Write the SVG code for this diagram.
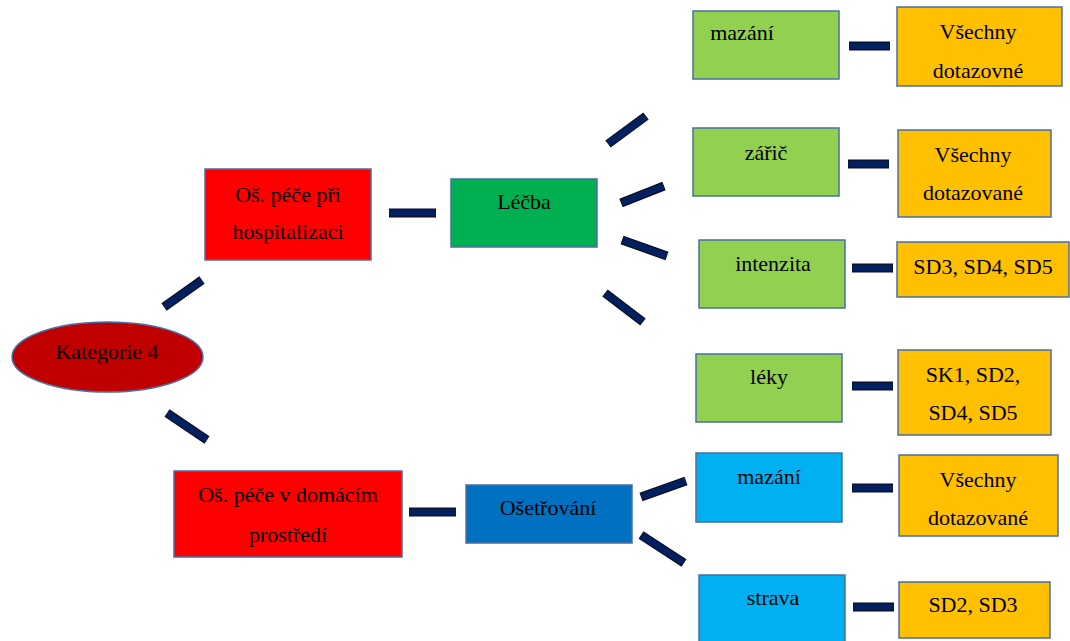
<svg xmlns="http://www.w3.org/2000/svg" width="1070" height="641" viewBox="0 0 1070 641">
<style>
.t{font-family:"Liberation Serif","Times New Roman",serif;font-size:22px;fill:#000;text-anchor:middle}
.b{stroke:#4a6fa5;stroke-width:1.5}
.red{fill:#FF0000}.dred{fill:#C00000}.grn{fill:#00B050}.lg{fill:#92D050}.blu{fill:#0070C0}.lb{fill:#00B0F0}.org{fill:#FFC000}
.c{stroke:#0d0d24;stroke-width:9;stroke-linecap:butt}
.ci{stroke:#002060;stroke-width:6.5;stroke-linecap:butt}
</style>
<rect width="1070" height="641" fill="#fff"/>
<g id="connectors">
<g id="c-outline">
<line class="c" x1="164" y1="307" x2="202" y2="280"/>
<line class="c" x1="167" y1="413" x2="207" y2="440"/>
<line class="c" x1="389" y1="213" x2="436" y2="213"/>
<line class="c" x1="409" y1="512" x2="456" y2="512"/>
<line class="c" x1="608" y1="144" x2="646" y2="116"/>
<line class="c" x1="621" y1="203" x2="664" y2="186"/>
<line class="c" x1="622" y1="240" x2="667" y2="256"/>
<line class="c" x1="605" y1="293" x2="643" y2="322"/>
<line class="c" x1="641" y1="497" x2="686" y2="481"/>
<line class="c" x1="641" y1="535" x2="684" y2="563"/>
<line class="c" x1="849" y1="46" x2="890" y2="46"/>
<line class="c" x1="848" y1="164" x2="889" y2="164"/>
<line class="c" x1="852" y1="268" x2="893" y2="268"/>
<line class="c" x1="852" y1="386" x2="893" y2="386"/>
<line class="c" x1="852" y1="488" x2="893" y2="488"/>
<line class="c" x1="853" y1="607" x2="894" y2="607"/>
</g>
<g id="c-inner">
<line class="ci" x1="164.5" y1="306.5" x2="201.5" y2="280.5"/>
<line class="ci" x1="167.5" y1="413.5" x2="206.5" y2="439.5"/>
<line class="ci" x1="389.5" y1="213" x2="435.5" y2="213"/>
<line class="ci" x1="409.5" y1="512" x2="455.5" y2="512"/>
<line class="ci" x1="608.5" y1="143.5" x2="645.5" y2="116.5"/>
<line class="ci" x1="621.5" y1="203" x2="663.5" y2="186"/>
<line class="ci" x1="622.5" y1="240" x2="666.5" y2="256"/>
<line class="ci" x1="605.5" y1="293.5" x2="642.5" y2="321.5"/>
<line class="ci" x1="641.5" y1="497" x2="685.5" y2="481"/>
<line class="ci" x1="641.5" y1="535.5" x2="683.5" y2="562.5"/>
<line class="ci" x1="849.5" y1="46" x2="889.5" y2="46"/>
<line class="ci" x1="848.5" y1="164" x2="888.5" y2="164"/>
<line class="ci" x1="852.5" y1="268" x2="892.5" y2="268"/>
<line class="ci" x1="852.5" y1="386" x2="892.5" y2="386"/>
<line class="ci" x1="852.5" y1="488" x2="892.5" y2="488"/>
<line class="ci" x1="853.5" y1="607" x2="893.5" y2="607"/>
</g>
</g>
<g id="kategorie4"><ellipse class="dred b" cx="107.5" cy="357" rx="95.5" ry="35"/><text class="t" x="107" y="359">Kategorie 4</text></g>
<g id="hospitalizace"><rect class="red b" x="205" y="169" width="166" height="91"/><text class="t" x="288" y="202">Oš. péče při</text><text class="t" x="288" y="239">hospitalizaci</text></g>
<g id="domaci"><rect class="red b" x="174" y="471" width="228" height="86"/><text class="t" x="288" y="502">Oš. péče v domácím</text><text class="t" x="288" y="542">prostředí</text></g>
<g id="lecba"><rect class="grn b" x="451" y="179" width="146" height="68"/><text class="t" x="524" y="209">Léčba</text></g>
<g id="osetrovani"><rect class="blu b" x="466" y="485" width="166" height="58"/><text class="t" x="548" y="515">Ošetřování</text></g>
<g id="mazani1"><rect class="lg b" x="693" y="11" width="146" height="68"/><text class="t" x="742" y="40">mazání</text></g>
<g id="zaric"><rect class="lg b" x="693" y="128" width="146" height="68"/><text class="t" x="766" y="160">zářič</text></g>
<g id="intenzita"><rect class="lg b" x="699" y="240" width="146" height="68"/><text class="t" x="773" y="271">intenzita</text></g>
<g id="leky"><rect class="lg b" x="696" y="354" width="146" height="68"/><text class="t" x="769" y="384">léky</text></g>
<g id="mazani2"><rect class="lb b" x="696" y="453" width="146" height="69"/><text class="t" x="769" y="484">mazání</text></g>
<g id="strava"><rect class="lb b" x="699" y="575" width="146" height="70"/><text class="t" x="773" y="605">strava</text></g>
<g id="vsechny1"><rect class="org b" x="897" y="7" width="165" height="79"/><text class="t" x="978" y="39">Všechny</text><text class="t" x="978" y="78">dotazovné</text></g>
<g id="vsechny2"><rect class="org b" x="898" y="130" width="153" height="87"/><text class="t" x="973" y="162">Všechny</text><text class="t" x="973" y="200">dotazované</text></g>
<g id="sd345"><rect class="org b" x="897" y="242" width="172" height="55"/><text class="t" x="983" y="274">SD3, SD4, SD5</text></g>
<g id="sk1"><rect class="org b" x="898" y="350" width="153" height="85"/><text class="t" x="973" y="382">SK1, SD2,</text><text class="t" x="973" y="420">SD4, SD5</text></g>
<g id="vsechny3"><rect class="org b" x="899" y="455" width="159" height="81"/><text class="t" x="978" y="487">Všechny</text><text class="t" x="978" y="525">dotazované</text></g>
<g id="sd23"><rect class="org b" x="899" y="582" width="151" height="56"/><text class="t" x="973" y="612">SD2, SD3</text></g>
</svg>
